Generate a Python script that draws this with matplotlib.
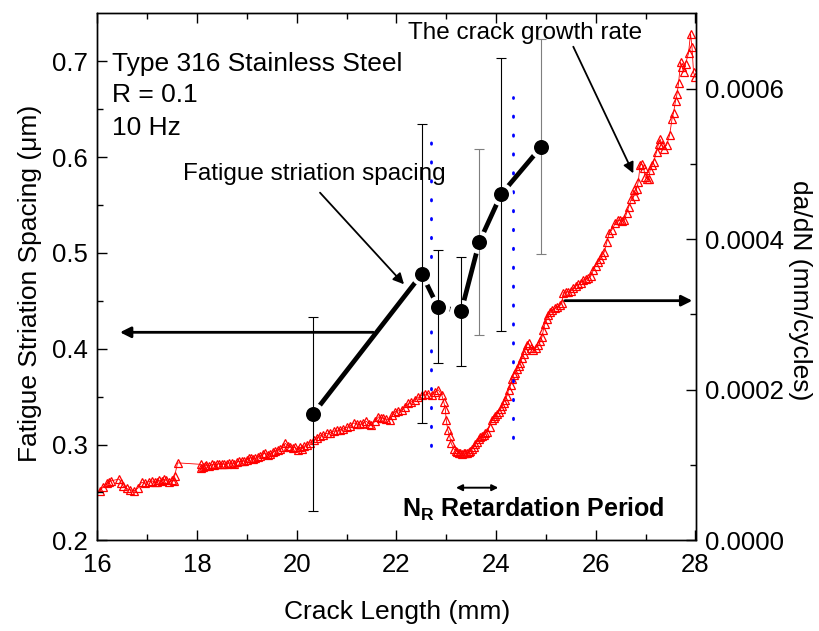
import numpy as np
import matplotlib
matplotlib.use("Agg")
import matplotlib.pyplot as plt

plt.rcParams['font.family'] = ['Liberation Sans', 'DejaVu Sans']
plt.rcParams['mathtext.fontset'] = 'custom'
plt.rcParams['mathtext.rm'] = 'Liberation Sans'
plt.rcParams['mathtext.bf'] = 'Liberation Sans:bold'

# Fatigue striation spacing (left axis)
crack_sp = [20.33, 22.51, 22.83, 23.30, 23.66, 24.10, 24.91]
spacing = [0.332, 0.478, 0.444, 0.439, 0.511, 0.561, 0.611]
spacing_err = [0.101, 0.156, 0.059, 0.057, 0.097, 0.142, 0.112]
err_colors = ['black', 'black', 'black', 'black', '#7f7f7f', 'black', '#7f7f7f']

# Crack growth rate da/dN (right axis), values in 1e-4 mm/cycle
crack_len = [
    16.05, 16.12, 16.20, 16.24, 16.27, 16.44, 16.48, 16.52, 16.59, 16.66,
    16.74, 16.81, 16.89, 16.96, 17.03, 17.10, 17.15, 17.19, 17.24, 17.29,
    17.33, 17.37, 17.44, 17.50, 17.53, 17.55, 17.61, 18.08, 18.09, 18.12,
    18.16, 18.19, 18.24, 18.30, 18.35, 18.40, 18.45, 18.50, 18.55, 18.60,
    18.65, 18.70, 18.75, 18.80, 18.85, 18.90, 18.95, 19.00, 19.05, 19.09,
    19.13, 19.17, 19.22, 19.27, 19.32, 19.37, 19.42, 19.47, 19.52, 19.57,
    19.62, 19.67, 19.72, 19.77, 19.82, 19.87, 19.92, 19.97, 20.02, 20.07,
    20.10, 20.15, 20.20, 20.27, 20.34, 20.40, 20.47, 20.53, 20.60, 20.67,
    20.74, 20.80, 20.87, 20.93, 21.00, 21.07, 21.14, 21.20, 21.27, 21.33,
    21.40, 21.45, 21.50, 21.57, 21.64, 21.69, 21.74, 21.80, 21.87, 21.92,
    21.97, 22.04, 22.11, 22.18, 22.24, 22.30, 22.37, 22.44, 22.51, 22.57,
    22.64, 22.71, 22.77, 22.84, 22.91, 22.95, 22.98, 23.00, 23.03, 23.07,
    23.10, 23.15, 23.19, 23.22, 23.25, 23.28, 23.32, 23.35, 23.38, 23.41,
    23.45, 23.48, 23.52, 23.55, 23.58, 23.61, 23.65, 23.68, 23.72, 23.75,
    23.78, 23.81, 23.87, 23.91, 23.95, 23.98, 24.02, 24.05, 24.09, 24.12,
    24.15, 24.18, 24.22, 24.25, 24.29, 24.32, 24.35, 24.38, 24.42, 24.45,
    24.48, 24.52, 24.55, 24.58, 24.62, 24.65, 24.70, 24.75, 24.80, 24.85,
    24.89, 24.92, 24.95, 24.98, 25.02, 25.05, 25.09, 25.12, 25.18, 25.22,
    25.28, 25.32, 25.35, 25.40, 25.45, 25.50, 25.55, 25.60, 25.65, 25.70,
    25.75, 25.80, 25.85, 25.90, 25.95, 26.00, 26.05, 26.09, 26.13, 26.17,
    26.22, 26.27, 26.32, 26.39, 26.44, 26.49, 26.53, 26.57, 26.62, 26.66,
    26.71, 26.76, 26.79, 26.82, 26.85, 26.89, 26.92, 26.96, 26.99, 27.03,
    27.06, 27.09, 27.13, 27.16, 27.22, 27.26, 27.29, 27.33, 27.36, 27.42,
    27.48, 27.53, 27.56, 27.60, 27.63, 27.66, 27.70, 27.73, 27.76, 27.80,
    27.86, 27.90, 27.93, 27.96, 27.99,
]
dadn_e4 = [
    0.66, 0.71, 0.76, 0.78, 0.79, 0.815, 0.76, 0.72, 0.69, 0.67,
    0.66, 0.69, 0.77, 0.76, 0.78, 0.79, 0.77, 0.78, 0.80, 0.79,
    0.81, 0.80, 0.77, 0.80, 0.79, 0.85, 1.03, 1.01, 0.96, 0.97,
    0.99, 1.00, 0.99, 1.01, 1.00, 1.01, 1.02, 1.02, 1.01, 1.02,
    1.03, 1.03, 1.02, 1.04, 1.05, 1.06, 1.05, 1.07, 1.09, 1.10,
    1.08, 1.09, 1.11, 1.12, 1.15, 1.16, 1.14, 1.15, 1.17, 1.19,
    1.20, 1.21, 1.24, 1.29, 1.25, 1.24, 1.23, 1.24, 1.20, 1.24,
    1.22, 1.25, 1.27, 1.30, 1.33, 1.36, 1.39, 1.40, 1.42, 1.43,
    1.45, 1.46, 1.47, 1.48, 1.50, 1.52, 1.56, 1.55, 1.54, 1.56,
    1.58, 1.55, 1.53, 1.58, 1.64, 1.63, 1.62, 1.61, 1.60, 1.66,
    1.71, 1.72, 1.73, 1.77, 1.82, 1.84, 1.87, 1.90, 1.93, 1.94,
    1.95, 1.93, 1.97, 2.00, 1.93, 1.84, 1.75, 1.60, 1.47, 1.38,
    1.29, 1.22, 1.19, 1.18, 1.16, 1.16, 1.15, 1.16, 1.16, 1.16,
    1.17, 1.19, 1.22, 1.24, 1.28, 1.31, 1.35, 1.37, 1.38, 1.40,
    1.42, 1.44, 1.51, 1.60, 1.63, 1.65, 1.68, 1.71, 1.74, 1.78,
    1.83, 1.87, 1.92, 2.00, 2.06, 2.15, 2.20, 2.22, 2.27, 2.31,
    2.36, 2.42, 2.48, 2.53, 2.60, 2.62, 2.55, 2.53, 2.56, 2.59,
    2.65, 2.70, 2.80, 2.88, 2.94, 2.99, 3.03, 3.06, 3.08, 3.10,
    3.12, 3.15, 3.29, 3.30, 3.30, 3.31, 3.35, 3.38, 3.40, 3.42,
    3.46, 3.47, 3.48, 3.51, 3.59, 3.65, 3.70, 3.74, 3.79, 3.83,
    3.96, 4.08, 4.12, 4.21, 4.25, 4.25, 4.24, 4.25, 4.35, 4.43,
    4.53, 4.65, 4.58, 4.67, 4.76, 4.98, 5.00, 4.95, 4.83, 4.80,
    4.80, 4.92, 4.98, 5.03, 5.16, 5.27, 5.33, 5.25, 5.20, 5.25,
    5.38, 5.60, 5.68, 5.84, 5.93, 6.07, 6.35, 6.29, 6.22, 6.33,
    6.47, 6.73, 6.55, 6.22, 6.15,
]
dadn = np.array(dadn_e4) * 1e-4

# Boundaries of the retardation period
nr_bounds = [22.70, 24.33]
nr_ylo = [0.299, 0.3065]
nr_yhi = [0.6175, 0.663]

x_ticks = [16, 18, 20, 22, 24, 26, 28]
left_ticks = [0.2, 0.3, 0.4, 0.5, 0.6, 0.7]
right_ticks = [0.0, 0.0002, 0.0004, 0.0006]
right_tick_labels = ['0.0000', '0.0002', '0.0004', '0.0006']

fig = plt.figure(figsize=(8.2, 6.31), dpi=100)
ax = fig.add_axes([97.3 / 820, 1 - 540.4 / 631, 598.2 / 820, 527.1 / 631])
ax2 = ax.twinx()
ax.set_zorder(ax2.get_zorder() + 1)
ax.patch.set_visible(False)

# Crack growth rate
ax2.plot(crack_len, dadn, color='red', lw=0.6, marker='^', ms=5.6,
         mfc='none', mec='red', mew=0.9)
ax2.set_ylim(0, 0.0007)
ax2.set_yticks(right_ticks)
ax2.set_yticklabels(right_tick_labels)
ax2.set_yticks(np.arange(0.0001, 0.0007, 0.0002), minor=True)

# Retardation period boundaries
for xb, lo, hi in zip(nr_bounds, nr_ylo, nr_yhi):
    ax.plot([xb, xb], [lo, hi], color='#0000ff', lw=2.0,
            linestyle=(0, (0.5, 6.3)), dash_capstyle='round', zorder=1)

# Striation spacing: thick line with gaps around the dots
ax.plot(crack_sp, spacing, color='black', lw=3.4, zorder=2,
        solid_capstyle='butt')
ax.plot(crack_sp, spacing, ls='none', marker='o', ms=15.5, mfc='white',
        mec='white', zorder=3)
for xs, ys, es, c in zip(crack_sp, spacing, spacing_err, err_colors):
    ax.errorbar(xs, ys, yerr=es, fmt='none', ecolor=c, elinewidth=0.8,
                capsize=3.6, capthick=0.8, zorder=4)
ax.plot(crack_sp, spacing, ls='none', marker='o', ms=10.8, mfc='black',
        mec='black', mew=0, zorder=5)

ax.set_xlim(16, 28)
ax.set_ylim(0.2, 0.75)
ax.set_xticks(x_ticks)
ax.set_xticks(np.arange(17, 28, 2), minor=True)
ax.set_yticks(left_ticks)
ax.set_yticks(np.arange(0.25, 0.75, 0.1), minor=True)
ax.set_yticklabels(['%.1f' % v for v in left_ticks])

for a in (ax, ax2):
    for s in a.spines.values():
        s.set_linewidth(1.0)
ax.tick_params(which='both', direction='in', top=True, right=False,
               width=1.0, labelsize=18.5)
ax.tick_params(which='major', length=7)
ax.tick_params(which='minor', length=4)
ax.tick_params(axis='x', pad=9)
ax.tick_params(axis='y', pad=7)
ax2.tick_params(which='both', direction='in', width=1.0, labelsize=18.5,
                pad=7)
ax2.tick_params(which='major', length=7)
ax2.tick_params(which='minor', length=4)

fig.text(397 / 820, 1 - 612 / 631, 'Crack Length (mm)', fontsize=19,
         ha='center', va='center')
fig.text(30 / 820, 1 - 283 / 631, 'Fatigue Striation Spacing (\u03bcm)',
         fontsize=19, rotation=90, ha='center', va='center')
fig.text(800 / 820, 1 - 290 / 631, 'da/dN (mm/cycles)', fontsize=19,
         rotation=270, ha='center', va='center')

tr = ax.transAxes
ax.text(0.024, 0.8911, 'Type 316 Stainless Steel', transform=tr,
        fontsize=19, va='baseline', ha='left')
ax.text(0.024, 0.8323, 'R = 0.1', transform=tr, fontsize=19,
        va='baseline', ha='left')
ax.text(0.024, 0.7691, '10 Hz', transform=tr, fontsize=19,
        va='baseline', ha='left')
ax.text(0.3628, 0.6837, 'Fatigue striation spacing', transform=tr,
        fontsize=17.5, va='baseline', ha='center')
ax.text(0.5194, 0.9507, 'The crack growth rate', transform=tr,
        fontsize=17.5, va='baseline', ha='left', zorder=6)
ax.text(0.5089, 0.045, r'$\mathbf{N_R}$ Retardation Period', transform=tr,
        fontsize=18, fontweight='bold', va='baseline', ha='left')


def arrow(tail, tip, lw, style='-|>', scale=16):
    ax.annotate('', xy=tip, xytext=tail, xycoords='axes fraction',
                textcoords='axes fraction',
                arrowprops=dict(arrowstyle=style, color='black', lw=lw,
                                shrinkA=0, shrinkB=0, mutation_scale=scale))


arrow((0.3723, 0.6597), (0.5127, 0.4859), 1.3)
arrow((0.4614, 0.3948), (0.0379, 0.3948), 2.0)
arrow((0.7818, 0.4548), (0.9947, 0.4548), 2.0)
arrow((0.7957, 0.9366), (0.8960, 0.6964), 1.3)
arrow((0.5996, 0.1000), (0.6703, 0.1000), 1.4, style='<|-|>', scale=9)

fig.savefig('out.png', dpi=100)
